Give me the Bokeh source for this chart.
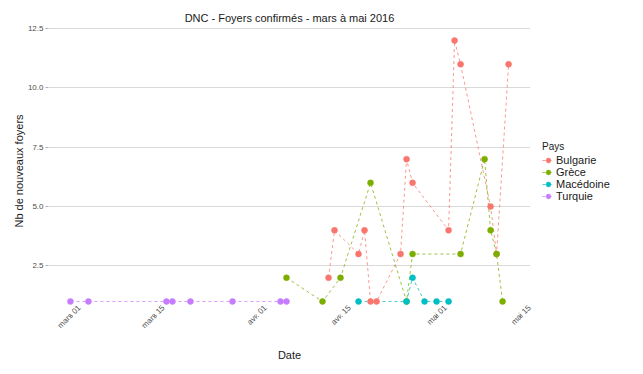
import math
import pandas as pd
from bokeh.plotting import figure
from bokeh.models import (Range1d, FixedTicker, Legend, LegendItem, PrintfTickFormatter,
                          DatetimeAxis)
from bokeh.embed import file_html
from bokeh.resources import INLINE

title_text = "DNC - Foyers confirmés - mars à mai 2016"
x_title = "Date"
y_title = "Nb de nouveaux foyers"
legend_title = "Pays"

countries = ["Bulgarie", "Grèce", "Macédoine", "Turquie"]
colors = ["#F8766D", "#7CAE00", "#00BFC4", "#C77CFF"]

bulgarie_dates = ["2016-04-13", "2016-04-14", "2016-04-18", "2016-04-19", "2016-04-20",
                  "2016-04-21", "2016-04-25", "2016-04-26", "2016-04-27", "2016-05-03",
                  "2016-05-04", "2016-05-05", "2016-05-10", "2016-05-11", "2016-05-13"]
bulgarie_values = [2, 4, 3, 4, 1, 1, 3, 7, 6, 4, 12, 11, 5, 3, 11]

grece_dates = ["2016-04-06", "2016-04-12", "2016-04-15", "2016-04-20", "2016-04-26",
               "2016-04-27", "2016-05-05", "2016-05-09", "2016-05-10", "2016-05-11",
               "2016-05-12"]
grece_values = [2, 1, 2, 6, 1, 3, 3, 7, 4, 3, 1]

macedoine_dates = ["2016-04-18", "2016-04-26", "2016-04-27", "2016-04-29", "2016-05-01",
                   "2016-05-03"]
macedoine_values = [1, 1, 2, 1, 1, 1]

turquie_dates = ["2016-03-01", "2016-03-04", "2016-03-17", "2016-03-18", "2016-03-21",
                 "2016-03-28", "2016-04-05", "2016-04-06"]
turquie_values = [1, 1, 1, 1, 1, 1, 1, 1]

tick_dates = ["2016-03-01", "2016-03-15", "2016-04-01", "2016-04-15", "2016-05-01", "2016-05-15"]
tick_labels = ["mars 01", "mars 15", "avr. 01", "avr. 15", "mai 01", "mai 15"]
y_ticks = [2.5, 5.0, 7.5, 10.0, 12.5]

series_dates = [bulgarie_dates, grece_dates, macedoine_dates, turquie_dates]
series_values = [bulgarie_values, grece_values, macedoine_values, turquie_values]

FONT = "Liberation Sans"
FRAME_W, FRAME_H = 482, 287
LABEL_SHIFT_PX = 9  # rotated tick labels sit just right of their tick, as in ggplot


def ms(d):
    return pd.Timestamp(d).value / 1e6


all_ms = [ms(d) for ds in series_dates for d in ds]
dmin, dmax = min(all_ms), max(all_ms)
span = dmax - dmin
x0, x1 = dmin - span * 0.05, dmax + span * 0.05
all_vals = [v for vs in series_values for v in vs]
vmin, vmax = min(all_vals), max(all_vals)
vpad = (vmax - vmin) * 0.05

p = figure(frame_width=FRAME_W, frame_height=FRAME_H, x_axis_type="datetime",
           x_range=Range1d(x0, x1), y_range=Range1d(vmin - vpad, vmax + vpad),
           output_backend="svg", toolbar_location=None,
           min_border_left=48, min_border_right=100, min_border_top=27, min_border_bottom=40)

p.title.text = title_text
p.title.align = "center"
p.title.text_font = FONT
p.title.text_font_size = "11px"
p.title.text_font_style = "normal"
p.title.text_color = "#1a1a1a"
p.title.standoff = 8

p.outline_line_color = None
p.background_fill_color = "white"
p.border_fill_color = "white"
p.xgrid.grid_line_color = None
p.ygrid.grid_line_color = "#d9d9d9"
p.ygrid.grid_line_width = 1.2

tick_ms = [ms(d) for d in tick_dates]
overrides = {t: lab for t, lab in zip(tick_ms, tick_labels)}
p.xaxis.ticker = FixedTicker(ticks=tick_ms)
p.xaxis.major_label_overrides = overrides
p.yaxis.ticker = FixedTicker(ticks=y_ticks)
p.yaxis.formatter = PrintfTickFormatter(format="%.1f")

for ax in (p.xaxis[0], p.yaxis[0]):
    ax.axis_line_color = None
    ax.major_tick_line_color = "#b0b0b0"
    ax.major_tick_in = 0
    ax.major_tick_out = 3
    ax.minor_tick_line_color = None
    ax.major_label_text_font = FONT
    ax.major_label_text_font_size = "8px"
    ax.major_label_text_color = "#4d4d4d"
    ax.axis_label_text_font = FONT
    ax.axis_label_text_font_size = "11px"
    ax.axis_label_text_font_style = "normal"
    ax.axis_label_text_color = "#1a1a1a"
    ax.major_label_standoff = 2
p.xaxis.major_label_text_alpha = 0
p.yaxis.axis_label = y_title
p.yaxis.axis_label_standoff = 0

# second bottom axis carrying the rotated date labels and the "Date" title
px_ms = (x1 - x0) / FRAME_W
shift = LABEL_SHIFT_PX * px_ms
p.extra_x_ranges = {"labels": Range1d(x0 - shift, x1 - shift)}
label_axis = DatetimeAxis(x_range_name="labels", ticker=FixedTicker(ticks=tick_ms),
                          major_label_overrides=overrides,
                          major_label_orientation=math.pi / 4,
                          axis_line_color=None, major_tick_line_color=None,
                          minor_tick_line_color=None, major_tick_out=0, major_tick_in=0,
                          major_label_standoff=-11,
                          major_label_text_font=FONT, major_label_text_font_size="8px",
                          major_label_text_color="#4d4d4d",
                          axis_label=x_title, axis_label_standoff=13,
                          axis_label_text_font=FONT, axis_label_text_font_size="11px",
                          axis_label_text_font_style="normal", axis_label_text_color="#1a1a1a")
p.add_layout(label_axis, "below")

line_renderers = []
for dates, vals, c in zip(series_dates, series_values, colors):
    r = p.line([ms(d) for d in dates], vals, line_color=c, line_dash="3 3",
               line_width=1, line_alpha=0.75)
    line_renderers.append(r)
point_renderers = []
for dates, vals, c in zip(series_dates, series_values, colors):
    r = p.scatter([ms(d) for d in dates], vals, size=6, fill_color=c, line_color=c,
                  line_width=0.5)
    point_renderers.append(r)

items = [LegendItem(label=name, renderers=[lr, pr])
         for name, lr, pr in zip(countries, line_renderers, point_renderers)]
legend = Legend(items=items, title=legend_title, location=(12, 112))
legend.title_text_font = FONT
legend.title_text_font_size = "10px"
legend.title_text_font_style = "normal"
legend.title_text_color = "#1a1a1a"
legend.title_standoff = 2
legend.label_text_font = FONT
legend.label_text_font_size = "11px"
legend.label_text_color = "#1a1a1a"
legend.label_height = 12
legend.glyph_height = 12
legend.glyph_width = 12
legend.label_standoff = 2
legend.spacing = 0
legend.padding = 0
legend.margin = 0
legend.border_line_color = None
legend.background_fill_alpha = 0
p.add_layout(legend, "right")

open("out.html", "w").write(file_html(p, INLINE))
